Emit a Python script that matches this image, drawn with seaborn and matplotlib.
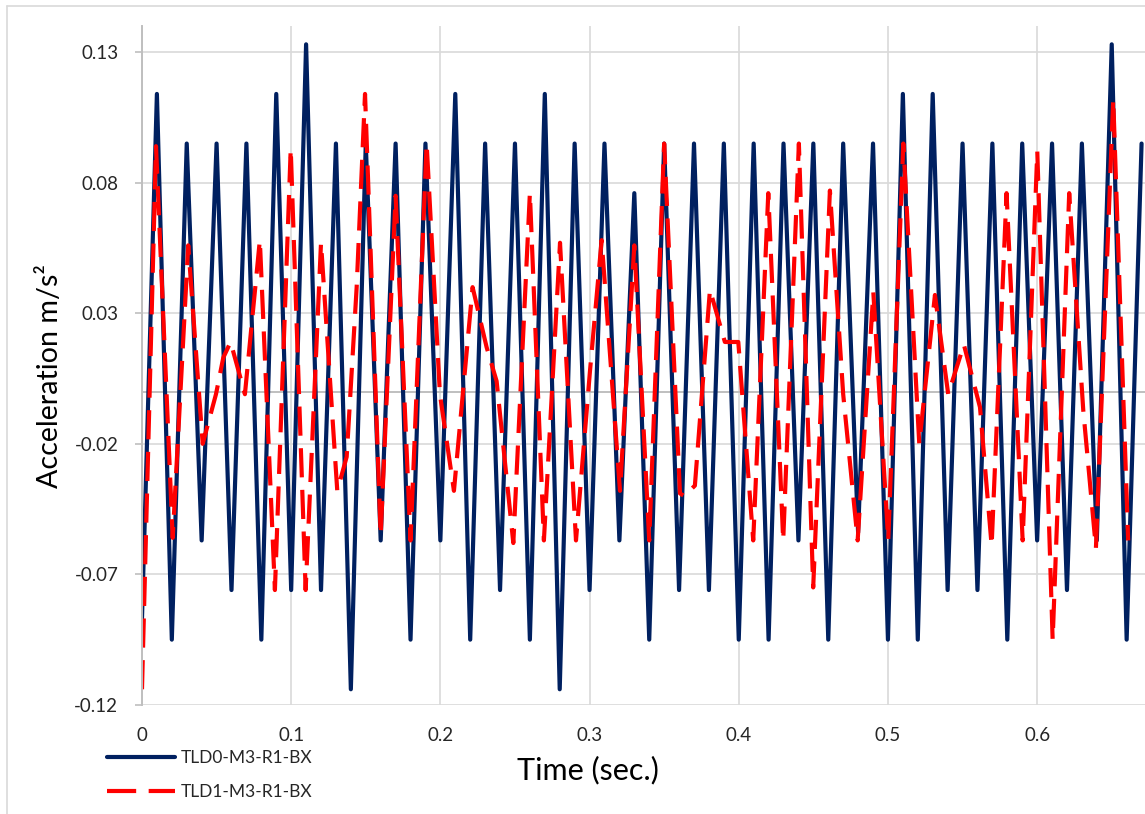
import numpy as np
import pandas as pd
import matplotlib.pyplot as plt
import seaborn as sns
from matplotlib.lines import Line2D

# TLD0 (solid navy) - peaks / troughs
tld0_t = [0.00, 0.01, 0.02, 0.03, 0.04, 0.05, 0.06, 0.07, 0.08, 0.09,
          0.10, 0.11, 0.12, 0.13, 0.14, 0.15, 0.16, 0.17, 0.18, 0.19,
          0.20, 0.21, 0.22, 0.23, 0.24, 0.25, 0.26, 0.27, 0.28, 0.29,
          0.30, 0.31, 0.32, 0.33, 0.34, 0.35, 0.36, 0.37, 0.38, 0.39,
          0.40, 0.41, 0.42, 0.43, 0.44, 0.45, 0.46, 0.47, 0.48, 0.49,
          0.50, 0.51, 0.52, 0.53, 0.54, 0.55, 0.56, 0.57, 0.58, 0.59,
          0.60, 0.61, 0.62, 0.63, 0.64, 0.65, 0.66, 0.67]
tld0_acc = [-0.087, 0.114, -0.095, 0.095, -0.057, 0.095, -0.076, 0.095, -0.095, 0.114,
            -0.076, 0.133, -0.076, 0.095, -0.114, 0.095, -0.057, 0.095, -0.095, 0.095,
            -0.057, 0.114, -0.095, 0.095, -0.076, 0.095, -0.095, 0.114, -0.114, 0.095,
            -0.076, 0.095, -0.057, 0.076, -0.095, 0.095, -0.076, 0.095, -0.076, 0.095,
            -0.095, 0.095, -0.095, 0.095, -0.057, 0.095, -0.095, 0.095, -0.054, 0.095,
            -0.095, 0.114, -0.095, 0.114, -0.076, 0.095, -0.076, 0.095, -0.095, 0.095,
            -0.057, 0.095, -0.076, 0.095, -0.057, 0.133, -0.095, 0.095]

# TLD1 (dashed red)
tld1_t = [0.000, 0.0094, 0.0206, 0.031, 0.0407, 0.0496, 0.0545, 0.0594, 0.069, 0.079,
          0.0891, 0.0997, 0.1097, 0.120, 0.1309, 0.1372, 0.1439, 0.1495, 0.160, 0.170,
          0.180, 0.1908, 0.1997, 0.2091, 0.2216, 0.231, 0.2377, 0.2489, 0.260, 0.2694,
          0.2802, 0.2909, 0.3003, 0.3081, 0.3204, 0.330, 0.340, 0.350, 0.3606, 0.3635,
          0.3706, 0.3807, 0.3907, 0.3997, 0.4097, 0.4198, 0.4298, 0.4403, 0.4499, 0.4611,
          0.470, 0.4797, 0.4902, 0.5002, 0.5103, 0.521, 0.5315, 0.5404, 0.5509, 0.5617,
          0.5695, 0.5795, 0.5903, 0.6001, 0.6104, 0.6215, 0.6309, 0.6394, 0.651, 0.661]
tld1_acc = [-0.114, 0.094, -0.056, 0.056, -0.020, -0.001, 0.013, 0.019, -0.001, 0.058,
            -0.076, 0.093, -0.076, 0.057, -0.038, -0.025, 0.040, 0.114, -0.055, 0.075,
            -0.057, 0.095, -0.001, -0.038, 0.040, 0.017, 0.004, -0.058, 0.076, -0.057,
            0.057, -0.057, 0.008, 0.058, -0.038, 0.056, -0.057, 0.095, -0.039, -0.040,
            -0.036, 0.039, 0.019, 0.019, -0.057, 0.076, -0.057, 0.095, -0.075, 0.077,
            -0.001, -0.057, 0.038, -0.057, 0.095, -0.020, 0.037, -0.001, 0.018, -0.006,
            -0.059, 0.076, -0.057, 0.092, -0.095, 0.076, -0.007, -0.060, 0.112, -0.057]

series_names = ["TLD0-M3-R1-BX", "TLD1-M3-R1-BX"]
y_ticks = [-0.12, -0.07, -0.02, 0.03, 0.08, 0.13]
x_ticks = [0, 0.1, 0.2, 0.3, 0.4, 0.5, 0.6]
x_labels = ["0", "0.1", "0.2", "0.3", "0.4", "0.5", "0.6"]

df = pd.concat([
    pd.DataFrame({"Time": tld0_t, "Acc": tld0_acc, "series": series_names[0]}),
    pd.DataFrame({"Time": tld1_t, "Acc": tld1_acc, "series": series_names[1]}),
], ignore_index=True)

sns.set_style("white")
plt.rcParams['font.family'] = ['Lato', 'DejaVu Sans']

fig = plt.figure(figsize=(11.45, 8.14), dpi=100)
ax = fig.add_axes([0.124, 0.134, 0.876, 0.834])

# chart border (light gray, like the Excel chart area)
fig.add_artist(Line2D([7 / 1145, 7 / 1145], [0, 1 - 6 / 814], transform=fig.transFigure,
                      color="#d9d9d9", lw=1.2))
fig.add_artist(Line2D([7 / 1145, 1], [1 - 6 / 814, 1 - 6 / 814], transform=fig.transFigure,
                      color="#d9d9d9", lw=1.2))

sns.lineplot(data=df, x="Time", y="Acc", hue="series", style="series",
             palette={series_names[0]: "#002060", series_names[1]: "#ff0000"},
             dashes={series_names[0]: "", series_names[1]: (7, 3)},
             linewidth=3, sort=False, estimator=None, ax=ax)

ax.axhline(0, color="#bfbfbf", lw=1.4, zorder=1)

ax.set_xlim(0, 0.6723)
ax.set_ylim(-0.12, 0.14)
ax.set_yticks(y_ticks)
ax.set_yticklabels(["%.2f" % v for v in y_ticks])
ax.set_xticks(x_ticks)
ax.set_xticklabels(x_labels)
ax.grid(True, color="#d9d9d9", lw=1.2)
ax.set_axisbelow(True)

for s in ["top", "right", "bottom"]:
    ax.spines[s].set_visible(False)
ax.spines["left"].set_color("#bfbfbf")
ax.spines["left"].set_linewidth(1.4)

ax.tick_params(axis="y", direction="out", length=5, width=1.2, color="#bfbfbf",
               pad=12, labelsize=13.5, labelcolor="#262626", left=True)
ax.tick_params(axis="x", length=0, pad=16, labelsize=13.5, labelcolor="#262626")

ax.set_xlabel("Time (sec.)", fontsize=22, color="black")
ax.set_ylabel("Acceleration m/s²", fontsize=20.6, color="black")
ax.xaxis.set_label_coords(0.445, -0.075)
ax.yaxis.set_label_coords(-0.079, 0.484)

handles, labels = ax.get_legend_handles_labels()
leg = ax.legend(handles, labels, loc="center left",
                bbox_to_anchor=(107 / 1145, 39 / 814), bbox_transform=fig.transFigure,
                frameon=False, fontsize=12.5, borderpad=0, borderaxespad=0,
                handlelength=3.9, handletextpad=0.35, labelspacing=1.0)
for line in leg.get_lines():
    line.set_linewidth(3)

plt.savefig("out.png", dpi=100)
